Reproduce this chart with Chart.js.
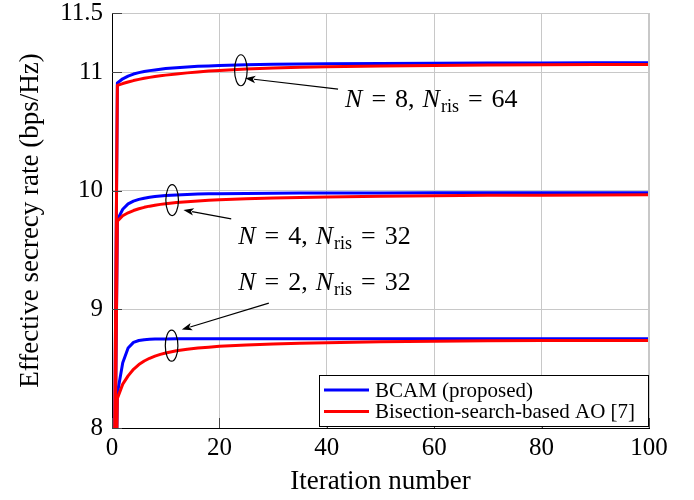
<!DOCTYPE html>
<html>
<head>
<meta charset="utf-8">
<script src="https://cdn.jsdelivr.net/npm/chart.js@4.4.1/dist/chart.umd.min.js"></script>
<style>
  html, body { margin: 0; padding: 0; background: #fff; }
  #wrap { width: 694px; height: 500px; }
</style>
</head>
<body>
<div id="wrap"><canvas id="grafico" width="694" height="500"></canvas></div>
<script>
// Values (iteration -> effective secrecy rate)
const iteracoes = [0, 1, 2, 3, 4, 5, 6, 7, 8, 9, 10, 12, 14, 16, 18, 20, 25, 30, 35, 40, 50, 60, 70, 80, 90, 100];

const bcamN8 = [5, 10.91, 10.945, 10.968, 10.985, 10.997, 11.006, 11.014, 11.02, 11.026, 11.031, 11.039, 11.045, 11.05, 11.054, 11.057, 11.063, 11.067, 11.07, 11.072, 11.075, 11.077, 11.078, 11.079, 11.08, 11.08];
const aoN8   = [5, 10.89, 10.905, 10.918, 10.93, 10.94, 10.949, 10.957, 10.964, 10.97, 10.976, 10.986, 10.995, 11.003, 11.01, 11.016, 11.028, 11.036, 11.042, 11.046, 11.053, 11.058, 11.061, 11.063, 11.065, 11.066];

const bcamN4 = [5, 9.755, 9.845, 9.89, 9.913, 9.928, 9.938, 9.946, 9.952, 9.957, 9.961, 9.966, 9.97, 9.973, 9.975, 9.976, 9.978, 9.98, 9.981, 9.981, 9.982, 9.983, 9.983, 9.983, 9.983, 9.983];
const aoN4   = [5, 9.745, 9.79, 9.815, 9.834, 9.849, 9.861, 9.871, 9.879, 9.886, 9.892, 9.902, 9.909, 9.915, 9.92, 9.925, 9.933, 9.94, 9.944, 9.948, 9.954, 9.959, 9.962, 9.964, 9.966, 9.967];

const bcamN2 = [5, 8.29, 8.55, 8.675, 8.722, 8.738, 8.745, 8.748, 8.75, 8.751, 8.751, 8.752, 8.752, 8.752, 8.753, 8.753, 8.753, 8.753, 8.753, 8.753, 8.753, 8.753, 8.753, 8.753, 8.753, 8.753];
const aoN2   = [5, 8.25, 8.37, 8.44, 8.495, 8.535, 8.565, 8.588, 8.606, 8.621, 8.633, 8.651, 8.664, 8.674, 8.682, 8.689, 8.7, 8.709, 8.715, 8.72, 8.727, 8.732, 8.735, 8.737, 8.738, 8.739];

const xTicks = [0, 20, 40, 60, 80, 100];
const yTicks = [8, 9, 10, 11, 11.5];

const legendLabels = ['BCAM (proposed)', 'Bisection-search-based AO [7]'];

// annotation labels: N and N_ris for each group
const usuariosN = [8, 4, 2];
const elementosRis = [64, 32, 32];

const SERIF = '"Liberation Serif", "Times New Roman", serif';
const AZUL = '#0000ff';
const VERMELHO = '#ff0000';

// annotation geometry, in data units (x = iteration, y = rate)
const elipses = [
    { x: 24.0, y: 11.017 },
    { x: 11.2, y: 9.922 },
    { x: 11.1, y: 8.694 }
];
const setas = [
    { de: [42.1, 10.858], para: [24.8, 10.95] },
    { de: [22.2, 9.764], para: [13.3, 9.839] },
    { de: [29.2, 9.053], para: [13.0, 8.830] }
];
const rotulos = [
    { x: 43.4, y: 10.708 },
    { x: 23.5, y: 9.555 },
    { x: 23.5, y: 9.162 }
];

function pontos(valores) {
    return iteracoes.map((it, i) => ({ x: it, y: valores[i] }));
}

function serie(label, valores, cor, ordem) {
    return {
        label: label,
        data: pontos(valores),
        borderColor: cor,
        backgroundColor: cor,
        borderWidth: 3,
        borderJoinStyle: 'round',
        pointRadius: 0,
        tension: 0,
        fill: false,
        order: ordem
    };
}

function desenhaRotulo(ctx, x, y, n, nris) {
    const partes = [
        { t: 'N', f: 'italic 26px ' + SERIF },
        { t: '=', f: '26px ' + SERIF, gapL: 9, gapR: 9 },
        { t: n + ',', f: '26px ' + SERIF, gapR: 8 },
        { t: 'N', f: 'italic 26px ' + SERIF },
        { t: 'ris', f: '18px ' + SERIF, dy: 5, gapL: 1 },
        { t: '=', f: '26px ' + SERIF, gapL: 9, gapR: 9 },
        { t: String(nris), f: '26px ' + SERIF }
    ];
    ctx.textAlign = 'left';
    ctx.textBaseline = 'alphabetic';
    ctx.fillStyle = '#000';
    let cx = x;
    partes.forEach(p => {
        ctx.font = p.f;
        cx += p.gapL || 0;
        ctx.fillText(p.t, cx, y + (p.dy || 0));
        cx += ctx.measureText(p.t).width + (p.gapR || 0);
    });
}

function desenhaSeta(ctx, x1, y1, x2, y2) {
    const ang = Math.atan2(y2 - y1, x2 - x1);
    const tam = 11;
    ctx.strokeStyle = '#000';
    ctx.fillStyle = '#000';
    ctx.lineWidth = 1.2;
    ctx.beginPath();
    ctx.moveTo(x1, y1);
    ctx.lineTo(x2 - Math.cos(ang) * tam * 0.8, y2 - Math.sin(ang) * tam * 0.8);
    ctx.stroke();
    ctx.beginPath();
    ctx.moveTo(x2, y2);
    ctx.lineTo(x2 - tam * Math.cos(ang - 0.35), y2 - tam * Math.sin(ang - 0.35));
    ctx.lineTo(x2 - tam * 0.7 * Math.cos(ang), y2 - tam * 0.7 * Math.sin(ang));
    ctx.lineTo(x2 - tam * Math.cos(ang + 0.35), y2 - tam * Math.sin(ang + 0.35));
    ctx.closePath();
    ctx.fill();
}

// inner ticks, annotations and legend box drawn on top of the datasets
const pluginAnotacoes = {
    id: 'anotacoes',
    afterDatasetsDraw(chart) {
        const ctx = chart.ctx;
        const xs = chart.scales.x;
        const ys = chart.scales.y;
        const area = chart.chartArea;
        ctx.save();

        // frame: top and right in grey
        ctx.strokeStyle = '#c8c8c8';
        ctx.lineWidth = 1;
        ctx.beginPath();
        ctx.moveTo(area.left, area.top + 0.5);
        ctx.lineTo(area.right - 0.5, area.top + 0.5);
        ctx.lineTo(area.right - 0.5, area.bottom);
        ctx.stroke();

        // inner tick marks
        ctx.strokeStyle = '#444';
        ctx.lineWidth = 1;
        ctx.beginPath();
        yTicks.forEach(v => {
            const py = Math.round(ys.getPixelForValue(v)) + 0.5;
            ctx.moveTo(area.left, py);
            ctx.lineTo(area.left + 10, py);
        });
        xTicks.forEach(v => {
            const px = Math.round(xs.getPixelForValue(v)) + 0.5;
            ctx.moveTo(px, area.bottom);
            ctx.lineTo(px, area.bottom - 10);
        });
        ctx.stroke();

        // ellipses round each group of curves
        ctx.strokeStyle = '#000';
        ctx.lineWidth = 1.2;
        elipses.forEach(e => {
            ctx.beginPath();
            ctx.ellipse(xs.getPixelForValue(e.x), ys.getPixelForValue(e.y), 6.3, 15.5, 0, 0, Math.PI * 2);
            ctx.stroke();
        });

        setas.forEach(s => {
            desenhaSeta(ctx,
                xs.getPixelForValue(s.de[0]), ys.getPixelForValue(s.de[1]),
                xs.getPixelForValue(s.para[0]), ys.getPixelForValue(s.para[1]));
        });

        rotulos.forEach((r, i) => {
            desenhaRotulo(ctx, xs.getPixelForValue(r.x), ys.getPixelForValue(r.y), usuariosN[i], elementosRis[i]);
        });

        // legend in the south-east corner
        const lx = area.right - 330, ly = area.bottom - 53;
        ctx.fillStyle = '#fff';
        ctx.fillRect(lx, ly, 330, 52);
        ctx.strokeStyle = '#000';
        ctx.lineWidth = 1;
        ctx.strokeRect(lx + 0.5, ly + 0.5, 329, 51);
        const cores = [AZUL, VERMELHO];
        ctx.font = '21px ' + SERIF;
        ctx.textBaseline = 'middle';
        ctx.textAlign = 'left';
        legendLabels.forEach((txt, i) => {
            const cy = ly + 15 + i * 21.5;
            ctx.strokeStyle = cores[i];
            ctx.lineWidth = 3;
            ctx.beginPath();
            ctx.moveTo(lx + 5, cy);
            ctx.lineTo(lx + 50, cy);
            ctx.stroke();
            ctx.fillStyle = '#000';
            ctx.fillText(txt, lx + 56, cy + 1);
        });
        ctx.restore();
    }
};

const config = {
    type: 'line',
    data: {
        datasets: [
            serie(legendLabels[0] + ' N=8', bcamN8, AZUL, 1),
            serie(legendLabels[1] + ' N=8', aoN8, VERMELHO, 0),
            serie(legendLabels[0] + ' N=4', bcamN4, AZUL, 1),
            serie(legendLabels[1] + ' N=4', aoN4, VERMELHO, 0),
            serie(legendLabels[0] + ' N=2', bcamN2, AZUL, 1),
            serie(legendLabels[1] + ' N=2', aoN2, VERMELHO, 0)
        ]
    },
    options: {
        responsive: false,
        devicePixelRatio: 1,
        animation: false,
        layout: { padding: { top: 13, right: 45, left: 0, bottom: 0 } },
        plugins: {
            legend: { display: false },
            tooltip: { enabled: false }
        },
        scales: {
            x: {
                type: 'linear',
                min: 0,
                max: 100,
                afterBuildTicks: scale => { scale.ticks = xTicks.map(v => ({ value: v })); },
                afterFit: scale => {
                    scale.height = 72;
                    scale.paddingLeft = 0;
                    scale.paddingRight = 0;
                },
                grid: { color: '#c8c8c8', drawTicks: false },
                border: { color: '#000', width: 1 },
                ticks: {
                    color: '#000',
                    padding: 5,
                    maxRotation: 0,
                    font: { family: SERIF, size: 25 }
                },
                title: {
                    display: true,
                    text: 'Iteration number',
                    color: '#000',
                    font: { family: SERIF, size: 27, lineHeight: 1 },
                    padding: { top: 0, bottom: 5 }
                }
            },
            y: {
                type: 'linear',
                min: 8,
                max: 11.5,
                afterBuildTicks: scale => { scale.ticks = yTicks.map(v => ({ value: v })); },
                afterFit: scale => {
                    scale.width = 112;
                    scale.paddingTop = 0;
                    scale.paddingBottom = 0;
                },
                grid: { color: '#c8c8c8', drawTicks: false },
                border: { color: '#000', width: 1 },
                ticks: {
                    color: '#000',
                    padding: 9,
                    font: { family: SERIF, size: 25 }
                },
                title: {
                    display: true,
                    text: 'Effective secrecy rate (bps/Hz)',
                    color: '#000',
                    font: { family: SERIF, size: 27, lineHeight: 1 },
                    padding: { top: 17, bottom: 0 }
                }
            }
        }
    },
    plugins: [pluginAnotacoes]
};

const grafico = new Chart(document.getElementById('grafico'), config);
</script>
</body>
</html>
